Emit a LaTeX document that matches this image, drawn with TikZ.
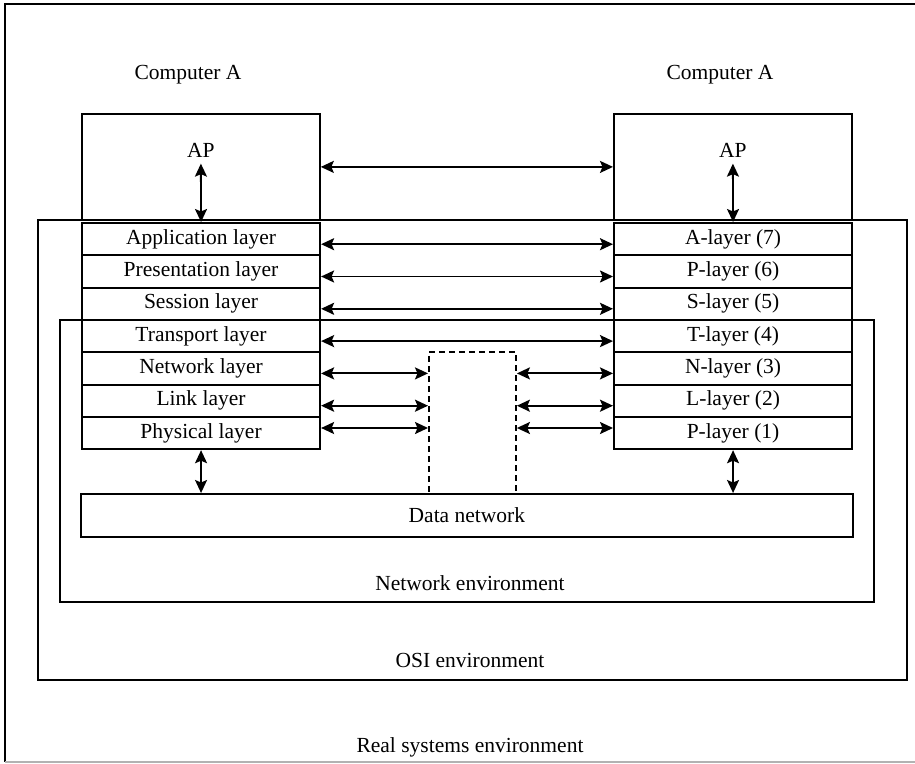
\documentclass[tikz,border=0pt]{standalone}
\usepackage{fontspec}
\setmainfont{Liberation Serif}
\usetikzlibrary{arrows.meta,calc}
\begin{document}
\begin{tikzpicture}[x=1pt,y=-1pt,
  every node/.style={font=\fontsize{21.5}{25}\selectfont},
  envbox/.style={draw, line width=1.7pt, inner sep=0pt, anchor=north west},
  apbox/.style={draw, line width=1.8pt, minimum width=238pt, minimum height=106pt, inner sep=0pt, anchor=north west},
  layerbox/.style={draw, line width=2.1pt, minimum width=238pt, minimum height=32.3pt, inner sep=0pt, anchor=north west},
  relaybox/.style={draw, line width=1.9pt, dash pattern=on 6pt off 4pt, minimum width=87pt, minimum height=142pt, inner sep=0pt, anchor=north west},
  link/.style={line width=1.9pt, {Stealth[length=13pt,width=12pt,inset=2.5pt]}-{Stealth[length=13pt,width=12pt,inset=2.5pt]}}]
\useasboundingbox (0,0) rectangle (915,763);

% real systems frame (open to the right)
\draw[line width=1.8pt] (930,4) -- (5,4) -- (5,762);
\draw[line width=1.2pt, black!30] (5,762) -- (930,762);
\node (realtxt) at (470,747) {Real systems environment};

% OSI and network environments
\node[envbox, minimum width=869pt, minimum height=460pt] (osi) at (37,219) {};
\node (ositxt) at (470,660) {OSI environment};
\node[envbox, minimum width=814pt, minimum height=282pt] (netenv) at (59,319) {};
\node (nettxt) at (470,583) {Network environment};

% computers
\node (compL) at (188,75) {Computer A};
\node (compR) at (720,75) {Computer A};
\node[apbox] (apL) at (81,113) {};
\node[apbox] (apR) at (613,113) {};
\node (aptL) at ($(apL.north)+(0,37)$) {AP};
\node (aptR) at ($(apR.north)+(0,37)$) {AP};

% layer stacks
\foreach \i/\lt/\rt in {1/Application layer/A-layer (7),
                        2/Presentation layer/P-layer (6),
                        3/Session layer/S-layer (5),
                        4/Transport layer/T-layer (4),
                        5/Network layer/N-layer (3),
                        6/Link layer/L-layer (2),
                        7/Physical layer/P-layer (1)} {
  \node[layerbox] (l\i) at (81,{222+(\i-1)*32.3}) {\lt};
  \node[layerbox] (r\i) at (613,{222+(\i-1)*32.3}) {\rt};
}

% relay and data network
\node[envbox, line width=1.8pt, minimum width=772pt, minimum height=43pt] (dn) at (80,493) {Data network};
\node[relaybox] (relay) at (428,351) {};

% peer-to-peer links
\draw[link] (apL.east) -- (apR.west);
\foreach \i in {1,2,3,4}
  \draw[link] ($(l\i.east)+(0,5)$) -- ($(r\i.west)+(0,5)$);
\foreach \i/\d in {5/5,6/5,7/-5} {
  \draw[link] ($(l\i.east)+(0,\d)$) -- ($(relay.west |- l\i.east)+(0,\d)$);
  \draw[link] ($(relay.east |- r\i.west)+(0,\d)$) -- ($(r\i.west)+(0,\d)$);
}

% vertical links
\draw[link] ($(aptL.south)+(0,3)$) -- (l1.north);
\draw[link] ($(aptR.south)+(0,3)$) -- (r1.north);
\draw[link] (l7.south) -- (l7.south |- dn.north);
\draw[link] (r7.south) -- (r7.south |- dn.north);
\end{tikzpicture}
\end{document}
